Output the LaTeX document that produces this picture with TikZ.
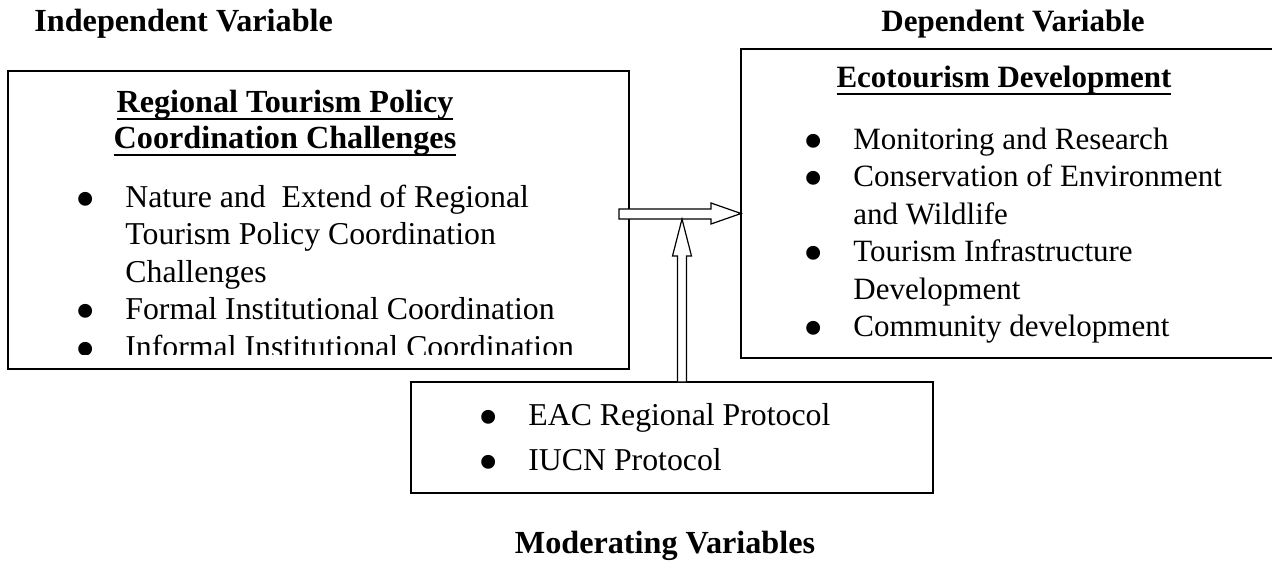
\documentclass[tikz,border=0pt]{standalone}
\usepackage{fontspec}
\setmainfont{Liberation Serif}
\newcommand{\uln}[1]{\setbox0\hbox{#1}\rlap{\rule[-4.1pt]{\wd0}{1.1pt}}\box0}
\newcommand{\bul}{\makebox[40pt]{\smash{\raisebox{-5.5pt}{\fontsize{29}{0}\selectfont\textbullet}}}}
\begin{document}
\begin{tikzpicture}[x=0.5pt, y=-0.5pt, font=\fontsize{15.5}{18.75}\selectfont,
    box/.style = {draw, line width=1pt, inner sep=0pt, outer sep=0pt},
    txt/.style = {inner sep=0pt, anchor=base west},
    big/.style = {font=\fontsize{15.9}{18.75}\selectfont},
    head/.style = {inner sep=0pt, anchor=base, font=\fontsize{15.5}{18.75}\selectfont\bfseries},
    bighead/.style = {head, font=\fontsize{16.1}{18.1}\selectfont\bfseries},
    blk/.style = {draw, fill=white, line width=0.6pt, line join=miter}]
    \clip (0,0) rectangle (1272,562);
    \node[bighead, anchor=base west] (iv) at (34,32) {Independent Variable};
    \node[head] (dv) at (1013,32) {Dependent Variable};
    \node[bighead] (mv) at (665,553) {Moderating Variables};
    \node[box, minimum width=310.5pt, minimum height=149pt] (ind) at (318.5,220) {};
    \node[box, minimum width=279.5pt, minimum height=154.5pt] (dep) at (1020.5,203.5) {};
    \node[box, minimum width=261pt, minimum height=55.5pt] (mod) at (672,437.5) {};
    \node[bighead] (ih) at (285,112) {\begin{tabular}[t]{@{}c@{}}
        \uln{Regional Tourism Policy}\\
        \uln{Coordination Challenges}
    \end{tabular}};
    \begin{scope}
        \clip (8,71) rectangle (629,354.5);
        \node[txt, big] (il) at (45,207) {\begin{tabular}[t]{@{}l@{}l@{}}
            \bul & Nature and\ \ Extend of Regional\\
                 & Tourism Policy Coordination\\
                 & Challenges\\
            \bul & Formal Institutional Coordination\\
            \bul & Informal Institutional Coordination
        \end{tabular}};
    \end{scope}
    \node[head] (dh) at (1004,87) {\uln{Ecotourism Development}};
    \node[txt] (dl) at (773,149) {\begin{tabular}[t]{@{}l@{}l@{}}
        \bul & Monitoring and Research\\
        \bul & Conservation of Environment\\
             & and Wildlife\\
        \bul & Tourism Infrastructure\\
             & Development\\
        \bul & Community development
    \end{tabular}};
    \node[txt, big] (ml) at (448,425) {\begin{tabular}[t]{@{}l@{}l@{}}
        \bul & EAC Regional Protocol\\[3.75pt]
        \bul & IUCN Protocol
    \end{tabular}};
    \coordinate (hs) at (619,213.5);
    \coordinate (ht) at (dep.west |- hs);
    \coordinate (vs) at (682,0 |- mod.north);
    \draw[blk] (hs) ++(0,-4.5) -- ++(92,0) -- ++(0,-6) -- (ht) -- ++(-30,10.5) -- ++(0,-5) -- ++(-92,0) -- cycle;
    \draw[blk] (vs) ++(-4.5,0) -- ++(0,-126) -- ++(-5,0) -- ++(9.5,-37) -- ++(9.5,37) -- ++(-5,0) -- ++(0,126) -- cycle;
\end{tikzpicture}
\end{document}
